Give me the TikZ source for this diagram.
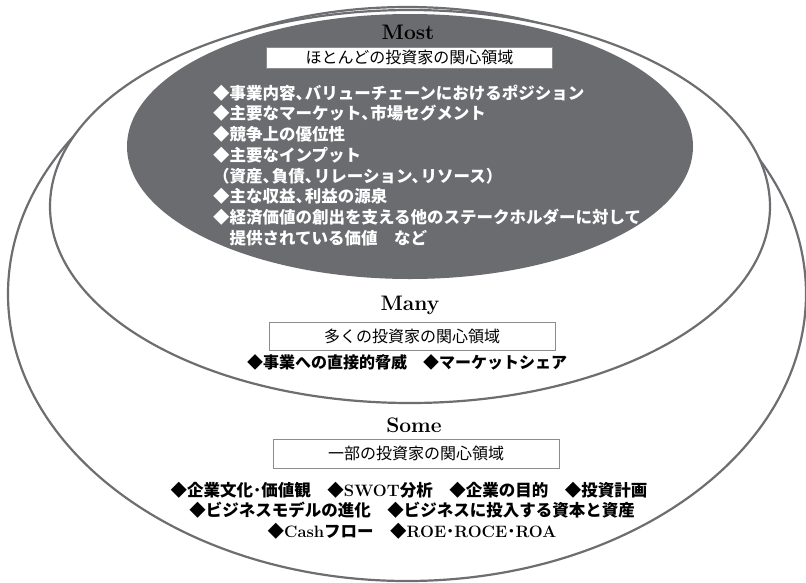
\documentclass[tikz,border=0pt]{standalone}
\usepackage{fontspec}
\newfontfamily\jp{Noto Sans CJK JP}
\newcommand\tcm{、\kern-0.45em}
\newcommand\mdt{･}
\definecolor{ringgray}{HTML}{6D6E71}
\definecolor{fillgray}{HTML}{6B6C70}
\definecolor{boxgray}{HTML}{8C8C8C}
\begin{document}
\begin{tikzpicture}[x=1pt,y=-1pt,
  ring/.style={draw=ringgray, line width=2.2pt, fill=white},
  level/.style={font=\bfseries\fontsize{21}{24}\selectfont, inner sep=0pt},
  titlebox/.style={draw=boxgray, line width=0.9pt, fill=white, minimum width=286pt, inner sep=0pt, font=\jp\fontsize{16}{18}\selectfont},
  wline/.style={anchor=west, inner sep=0pt, text=white, font=\jp\bfseries\fontsize{16.5}{20}\selectfont},
  bline/.style={inner sep=0pt, text=black, font=\jp\bfseries\fontsize{16.5}{20}\selectfont}]
\useasboundingbox (0,0) rectangle (806,582);
% rings
\draw[ring] (407,294) ellipse [x radius=399, y radius=287];
\draw[ring] (410,206.5) ellipse [x radius=360, y radius=196.5];
\fill[fillgray] (410,146.5) ellipse [x radius=283, y radius=132.5];
% Most
\node[level] (most) at (408,32) {Most};
\node[titlebox, minimum height=21pt] (mostbox) at (409.5,57.5) {ほとんどの投資家の関心領域};
\node[wline] (m1) at (213,93) {◆事業内容\tcm バリューチェーンにおけるポジション};
\node[wline] (m2) at (213,113.5) {◆主要なマーケット\tcm 市場セグメント};
\node[wline] (m3) at (213,134) {◆競争上の優位性};
\node[wline] (m4) at (213,155) {◆主要なインプット};
\node[wline] (m5) at (213,176) {（資産\tcm 負債\tcm リレーション\tcm リソース）};
\node[wline] (m6) at (213,196.5) {◆主な収益\tcm 利益の源泉};
\node[wline] (m7) at (213,217) {◆経済価値の創出を支える他のステークホルダーに対して};
\node[wline] (m8) at (213,238) {　提供されている価値　など};
% Many
\node[level] (many) at (410,305) {Many};
\node[titlebox, minimum height=28pt] (manybox) at (412,336) {多くの投資家の関心領域};
\node[bline, font=\jp\bfseries\fontsize{16}{20}\selectfont] (n1) at (407,362) {◆事業への直接的脅威　◆マーケットシェア};
% Some
\node[level] (some) at (414,425) {Some};
\node[titlebox, minimum height=29pt] (somebox) at (416,453.5) {一部の投資家の関心領域};
\node[bline] (s1) at (409,490) {◆企業文化\mdt 価値観　◆{\rmfamily SWOT}分析　◆企業の目的　◆投資計画};
\node[bline] (s2) at (412,510.5) {◆ビジネスモデルの進化　◆ビジネスに投入する資本と資産};
\node[bline] (s3) at (412,531) {◆{\rmfamily Cash}フロー　◆{\rmfamily ROE}\mdt{\rmfamily ROCE}\mdt{\rmfamily ROA}};
\end{tikzpicture}
\end{document}
